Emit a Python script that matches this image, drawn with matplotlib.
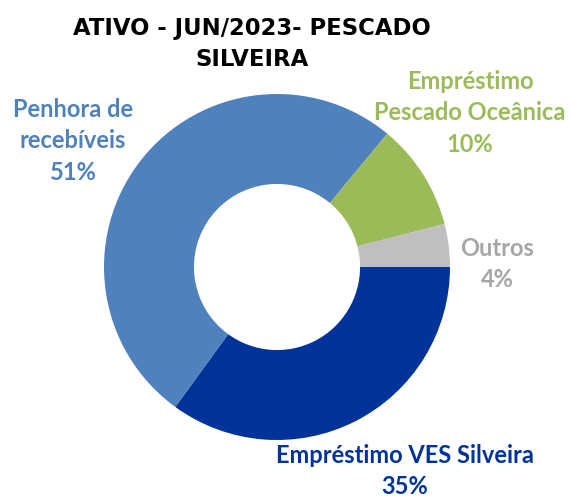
import matplotlib
matplotlib.use('Agg')
import matplotlib.pyplot as plt

# slices in drawing order (clockwise from 3 o'clock)
labels = ['Empréstimo VES Silveira', 'Penhora de\nrecebíveis', 'Empréstimo\nPescado Oceânica', 'Outros']
values = [35, 51, 10, 4]
colors = ['#003399', '#4F81BD', '#9BBB59', '#BFBFBF']
text_colors = ['#003399', '#4F81BD', '#9BBB59', '#A6A6A6']
title = 'ATIVO - JUN/2023- PESCADO\nSILVEIRA'

# label positions in figure pixels (x, y from top)
label_pos = [(405, 471), (73, 141), (470, 113), (497, 264)]

fig = plt.figure(figsize=(5.71, 5.0), dpi=100)
ax = fig.add_axes([104/571, 1 - 440/500, 346/571, 346/500])
ax.pie(values, colors=colors, startangle=0, counterclock=False,
       radius=1.0, wedgeprops=dict(width=0.52, linewidth=0))
ax.set_xlim(-1, 1)
ax.set_ylim(-1, 1)
ax.set_aspect('equal')
ax.axis('off')

fig.text(252/571, 1 - 44/500, title, ha='center', va='center',
         fontsize=16.4, fontweight='heavy', family='DejaVu Sans',
         linespacing=1.45, color='black')

for lab, v, c, (px, py) in zip(labels, values, text_colors, label_pos):
    fig.text(px/571, 1 - py/500, '%s\n%d%%' % (lab, v), ha='center', va='center',
             fontsize=17, fontweight='bold', family='Lato', color=c,
             linespacing=1.45)

fig.savefig('out.png', dpi=100)
